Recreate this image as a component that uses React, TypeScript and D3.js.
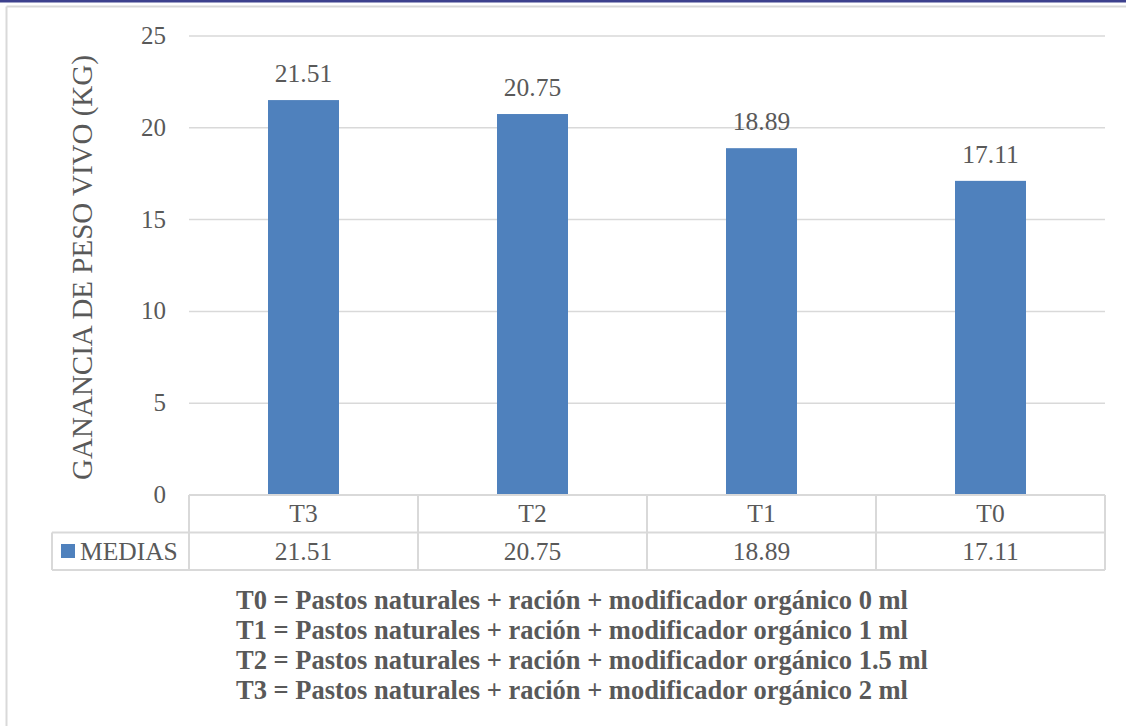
import React from "react";
import * as d3 from "d3";

// Treatments and their mean live-weight gain (kg)
const categories = ["T3", "T2", "T1", "T0"];
const medias = [21.51, 20.75, 18.89, 17.11];
const yTicks = [0, 5, 10, 15, 20, 25];
const seriesName = "MEDIAS";
const yTitle = "GANANCIA DE PESO VIVO (KG)";
const notes = [
  "T0 = Pastos naturales + ración + modificador orgánico 0 ml",
  "T1 = Pastos naturales + ración + modificador orgánico 1 ml",
  "T2 = Pastos naturales + ración + modificador orgánico 1.5 ml",
  "T3 = Pastos naturales + ración + modificador orgánico 2 ml",
];

const W = 1126;
const H = 726;
const plot = { left: 189, right: 1105, top: 36, bottom: 495 };
const rowH = 37.5;
const legendLeft = 52;
const font = "Liberation Serif, Tinos, Times New Roman, serif";
const textColor = "#595959";
const gridColor = "#d9d9d9";
const barColor = "#4f81bd";
const labelSize = 25.5;

export default function App() {
  const x = d3
    .scaleBand<string>()
    .domain(categories)
    .range([plot.left, plot.right])
    .paddingInner(0)
    .paddingOuter(0);
  const y = d3.scaleLinear().domain([0, 25]).range([plot.bottom, plot.top]);
  const barW = x.bandwidth() * 0.31;
  const row1 = plot.bottom;
  const row2 = plot.bottom + rowH;
  const row3 = plot.bottom + rowH * 2;
  const fmt = d3.format(".2f");

  return (
    <svg
      width={W}
      height={H}
      style={{ position: "absolute", left: 0, top: 0, background: "#fff", fontFamily: font }}
    >
      {/* page rule and chart frame */}
      <rect x={0} y={0} width={W} height={2.5} fill="#3d418e" />
      <line x1={6.5} x2={W} y1={6.5} y2={6.5} stroke={gridColor} strokeWidth={2} />
      <line x1={6.5} x2={6.5} y1={6.5} y2={H} stroke={gridColor} strokeWidth={2} />

      {/* gridlines and tick labels */}
      {yTicks.map((t) => (
        <g key={t}>
          {t > 0 && (
            <line x1={plot.left} x2={plot.right} y1={y(t)} y2={y(t)} stroke={gridColor} strokeWidth={1.5} />
          )}
          <text x={166} y={y(t) + 8} textAnchor="end" fontSize={25} fill={textColor}>
            {t}
          </text>
        </g>
      ))}

      {/* y axis title */}
      <text
        transform={`translate(92, ${267.5}) rotate(-90)`}
        textAnchor="middle"
        fontSize={29}
        fill={textColor}
      >
        {yTitle}
      </text>

      {/* bars with value labels */}
      {categories.map((c, i) => {
        const cx = (x(c) as number) + x.bandwidth() / 2;
        return (
          <g key={c}>
            <rect x={cx - barW / 2} y={y(medias[i])} width={barW} height={y(0) - y(medias[i])} fill={barColor} />
            <text x={cx} y={y(medias[i]) - 18} textAnchor="middle" fontSize={labelSize} fill={textColor}>
              {fmt(medias[i])}
            </text>
          </g>
        );
      })}

      {/* data table */}
      <g stroke={gridColor} strokeWidth={2} fill="none">
        <line x1={plot.left} x2={plot.right} y1={row1} y2={row1} />
        <line x1={legendLeft} x2={plot.right} y1={row2} y2={row2} />
        <line x1={legendLeft} x2={plot.right} y1={row3} y2={row3} />
        <line x1={legendLeft} x2={legendLeft} y1={row2} y2={row3} />
        {[...categories.map((c) => x(c) as number), plot.right].map((v, i) => (
          <line key={i} x1={v} x2={v} y1={row1} y2={row3} />
        ))}
      </g>
      {categories.map((c, i) => {
        const cx = (x(c) as number) + x.bandwidth() / 2;
        return (
          <g key={c}>
            <text x={cx} y={row1 + 27} textAnchor="middle" fontSize={labelSize} fill={textColor}>
              {c}
            </text>
            <text x={cx} y={row2 + 27.5} textAnchor="middle" fontSize={labelSize} fill={textColor}>
              {fmt(medias[i])}
            </text>
          </g>
        );
      })}
      <rect x={61} y={544} width={14} height={14} fill={barColor} />
      <text x={80} y={row2 + 27.5} fontSize={labelSize} fill={textColor}>
        {seriesName}
      </text>

      {/* treatment key */}
      {notes.map((n, i) => (
        <text key={i} x={236} y={609 + i * 30} fontSize={26.5} fontWeight="bold" fill={textColor}>
          {n}
        </text>
      ))}
    </svg>
  );
}
